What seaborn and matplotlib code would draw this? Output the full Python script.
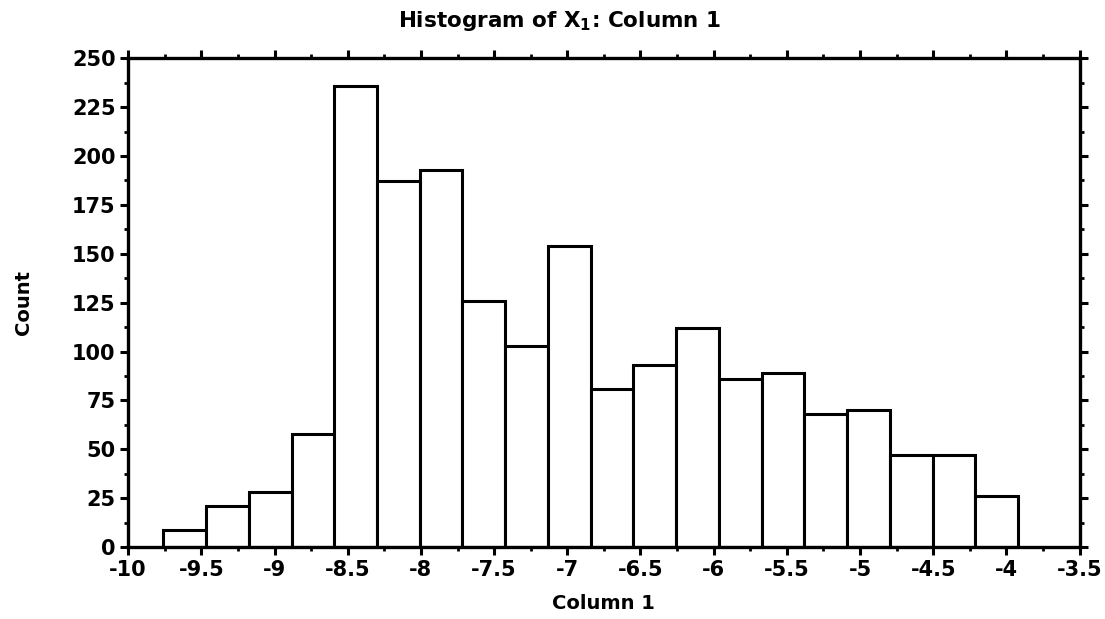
import numpy as np
import pandas as pd
import matplotlib
matplotlib.use("Agg")
import matplotlib.pyplot as plt
import seaborn as sns
from matplotlib.ticker import MultipleLocator

# Data
bin_start = -9.76
bin_width = 0.292
counts = [9, 21, 28, 58, 236, 187, 193, 126, 103, 154,
          81, 93, 112, 86, 89, 68, 70, 47, 47, 26]
x_ticks = [-10, -9.5, -9, -8.5, -8, -7.5, -7, -6.5, -6, -5.5, -5, -4.5, -4, -3.5]
x_tick_labels = ["-10", "-9.5", "-9", "-8.5", "-8", "-7.5", "-7", "-6.5", "-6",
                 "-5.5", "-5", "-4.5", "-4", "-3.5"]
y_ticks = [0, 25, 50, 75, 100, 125, 150, 175, 200, 225, 250]

edges = [bin_start + bin_width * i for i in range(len(counts) + 1)]
centers = [(edges[i] + edges[i + 1]) / 2 for i in range(len(counts))]
df = pd.DataFrame({"value": centers, "count": counts})

sns.set_theme(style="white")
plt.rcParams["font.family"] = ["DejaVu Sans"]
plt.rcParams["mathtext.fontset"] = "dejavusans"
plt.rcParams["text.color"] = "black"
plt.rcParams["axes.labelcolor"] = "black"

fig = plt.figure(figsize=(11.05, 6.19), dpi=100)
ax = fig.add_axes([0.116, 0.116, 0.861, 0.790])

sns.histplot(data=df, x="value", weights="count", bins=edges, ax=ax,
             color="white", edgecolor="black", linewidth=2.2, alpha=1)

ax.set_xlim(-10, -3.5)
ax.set_ylim(0, 250)
ax.set_xticks(x_ticks)
ax.set_xticklabels(x_tick_labels)
ax.set_yticks(y_ticks)
ax.xaxis.set_minor_locator(MultipleLocator(0.25))
ax.yaxis.set_minor_locator(MultipleLocator(12.5))

for s in ax.spines.values():
    s.set_visible(True)
    s.set_color("black")
    s.set_linewidth(2.4)

ax.tick_params(which="both", direction="out", colors="black",
               top=True, right=True, bottom=True, left=True,
               labeltop=False, labelright=False)
ax.tick_params(which="major", length=6, width=2.2, labelsize=15, pad=3)
ax.tick_params(which="minor", length=3, width=2.0)
for lab in ax.get_xticklabels() + ax.get_yticklabels():
    lab.set_fontweight("bold")

ax.set_xlabel("Column 1", fontsize=14, fontweight="bold", labelpad=10, color="black")
ax.set_ylabel("Count", fontsize=14, fontweight="bold", labelpad=28, color="black")

fig.text(0.506, 0.966, r"Histogram of X$_\mathbf{1}$: Column 1", ha="center", va="center",
         fontsize=15.5, fontweight="bold", color="black")

fig.savefig("out.png", dpi=100, facecolor="white")
